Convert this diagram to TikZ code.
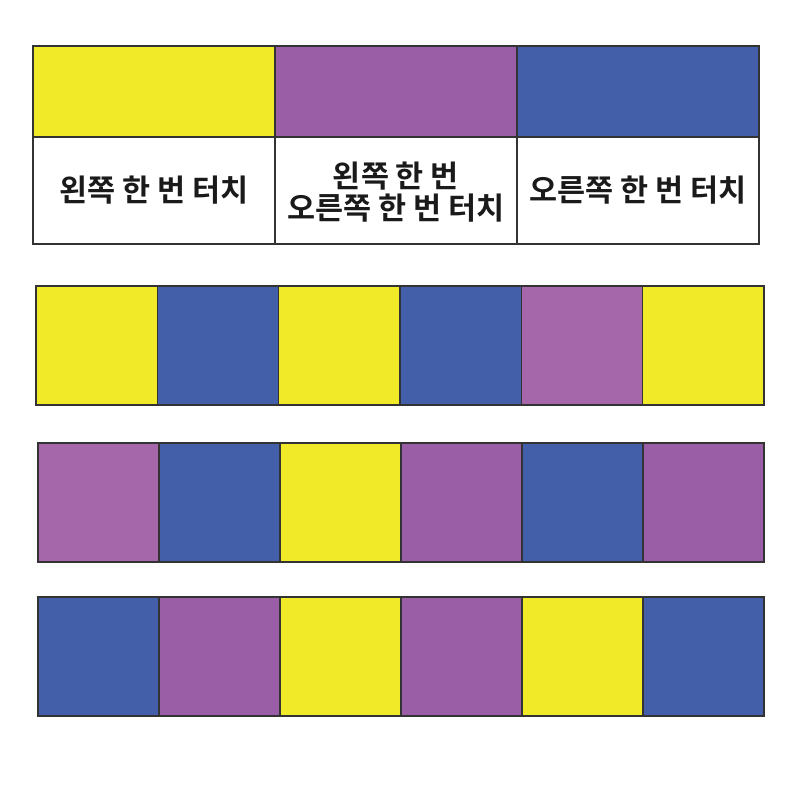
\documentclass[tikz,border=0pt]{standalone}
\usepackage{fontspec}
\newfontfamily\krfont{Noto Sans CJK KR Bold}
\definecolor{cy}{HTML}{F0EA28}
\definecolor{cp}{HTML}{9A5EA6}
\definecolor{cq}{HTML}{A667AA}
\definecolor{cb}{HTML}{435FA9}
\definecolor{edge}{HTML}{333333}
\definecolor{txt}{HTML}{1A1A1A}
\tikzset{
  cellbox/.style={draw=edge, line width=1.1pt},
  lbl/.style={font=\krfont\fontsize{30.5}{32}\selectfont, text=txt, align=center, inner sep=0pt},
}
\begin{document}
\begin{tikzpicture}[x=1pt,y=-1pt]
\useasboundingbox (0,0) rectangle (800,800);
% top table
\fill[cy] (33,46) rectangle (275,137);
\fill[cp] (275,46) rectangle (517,137);
\fill[cb] (517,46) rectangle (759,137);
\draw[cellbox] (33,46) rectangle (759,244);
\draw[cellbox] (33,137) -- (759,137);
\draw[cellbox] (275,46) -- (275,244);
\draw[cellbox] (517,46) -- (517,244);
\node[lbl] (t1) at (154,190) {왼쪽 한 번 터치};
\node[lbl] (t2) at (396,192) {왼쪽 한 번\\오른쪽 한 번 터치};
\node[lbl] (t3) at (638,190) {오른쪽 한 번 터치};
% row 2
\foreach \c [count=\i from 0] in {cy,cb,cy,cb,cq,cy}{
  \filldraw[cellbox, fill=\c] ({36+\i*121.33},286) rectangle ({36+(\i+1)*121.33},405);
}
% row 3
\foreach \c [count=\i from 0] in {cq,cb,cy,cp,cb,cp}{
  \filldraw[cellbox, fill=\c] ({38+\i*121},443) rectangle ({38+(\i+1)*121},562);
}
% row 4
\foreach \c [count=\i from 0] in {cb,cp,cy,cp,cy,cb}{
  \filldraw[cellbox, fill=\c] ({38+\i*121},597) rectangle ({38+(\i+1)*121},716);
}
\end{tikzpicture}
\end{document}
